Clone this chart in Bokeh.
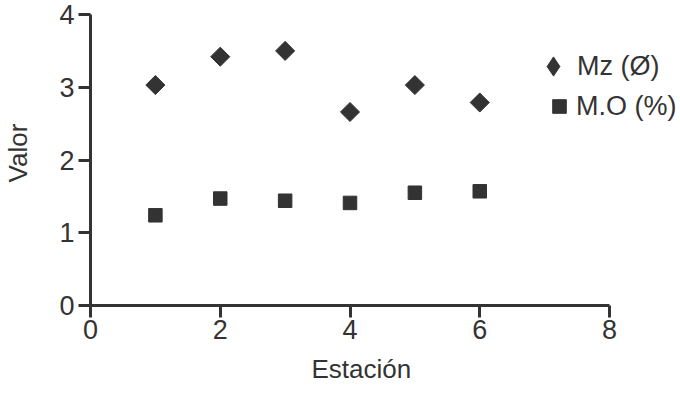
from bokeh.plotting import figure
from bokeh.models import (Range1d, FixedTicker, Legend, LegendItem, ColumnDataSource,
                          CDSView, IndexFilter, Title)
from bokeh.embed import file_html
from bokeh.resources import INLINE
import math

estacion = [1, 2, 3, 4, 5, 6]
mz = [3.03, 3.42, 3.50, 2.66, 3.03, 2.79]
mo = [1.24, 1.47, 1.44, 1.41, 1.55, 1.57]
x_ticks = [0, 2, 4, 6, 8]
y_ticks = [0, 1, 2, 3, 4]
series_names = ["Mz (Ø)", "M.O (%)"]
x_title = "Estación"
y_title = "Valor"

FONT = "Liberation Sans"
DARK = "#333333"

W, H = 680, 393
LEFT, BOTTOM = 90, 88
X_AXIS_END_PX = 609   # pixel where x = 8 sits; frame extends further right for the legend
Y_AXIS_TOP_PX = 14    # pixel where y = 4 sits; frame extends to the top edge
FRAME_BOTTOM_PX = H - BOTTOM
x_end = x_ticks[-1] * (W - LEFT) / (X_AXIS_END_PX - LEFT)
y_end = y_ticks[-1] * FRAME_BOTTOM_PX / (FRAME_BOTTOM_PX - Y_AXIS_TOP_PX)

p = figure(width=W, height=H, output_backend="svg", toolbar_location=None,
           x_range=Range1d(0, x_end), y_range=Range1d(0, y_end),
           min_border_left=LEFT, min_border_right=0, min_border_top=0,
           min_border_bottom=BOTTOM)
p.outline_line_color = None
p.xgrid.visible = False
p.ygrid.visible = False

src_mz = ColumnDataSource(dict(x=estacion, y=mz))
r1 = p.scatter("x", "y", source=src_mz, marker="square", angle=math.pi / 4, size=13.5,
               fill_color=DARK, line_color=DARK)
r2 = p.scatter(estacion, mo, marker="square", size=13.5,
               fill_color=DARK, line_color=DARK)
# legend key for the diamond series (legend glyphs cannot be rotated);
# its single point hides inside the first rotated square
r1_key = p.scatter("x", "y", source=src_mz, view=CDSView(filter=IndexFilter(indices=[0])),
                   marker="diamond", size=10, fill_color=DARK, line_color=DARK)

for ax in (p.xaxis[0], p.yaxis[0]):
    ax.axis_line_color = DARK
    ax.axis_line_width = 3
    ax.major_tick_line_color = DARK
    ax.major_tick_line_width = 3
    ax.major_tick_out = 12
    ax.major_tick_in = 0
    ax.minor_tick_line_color = None
    ax.major_label_text_font = FONT
    ax.major_label_text_font_size = "27px"
    ax.major_label_text_color = DARK

p.xaxis[0].ticker = FixedTicker(ticks=x_ticks)
p.yaxis[0].ticker = FixedTicker(ticks=y_ticks)
p.xaxis[0].bounds = (x_ticks[0], x_ticks[-1])
p.yaxis[0].bounds = (y_ticks[0], y_ticks[-1])
p.xaxis[0].major_label_standoff = 2
p.yaxis[0].major_label_standoff = 4
p.yaxis[0].axis_label = y_title
p.yaxis[0].axis_label_text_font = FONT
p.yaxis[0].axis_label_text_font_size = "26px"
p.yaxis[0].axis_label_text_font_style = "normal"
p.yaxis[0].axis_label_text_color = DARK
p.yaxis[0].axis_label_standoff = 23

xt = Title(text=x_title, align="left", offset=221, standoff=20,
           text_font=FONT, text_font_size="26px", text_font_style="normal",
           text_color=DARK)
p.add_layout(xt, "below")

common = dict(border_line_color=None, background_fill_alpha=0, padding=0, margin=0,
              label_standoff=0, label_text_font=FONT, label_text_font_size="27px",
              label_text_color=DARK)
legend_mz = Legend(items=[LegendItem(label=series_names[0], renderers=[r1_key])],
                   location=(439, 215), glyph_width=48, glyph_height=48, **common)
legend_mo = Legend(items=[LegendItem(label=series_names[1], renderers=[r2])],
                   location=(452, 182), glyph_width=34, glyph_height=34, **common)
p.add_layout(legend_mz)
p.add_layout(legend_mo)

open("out.html", "w").write(file_html(p, INLINE))
